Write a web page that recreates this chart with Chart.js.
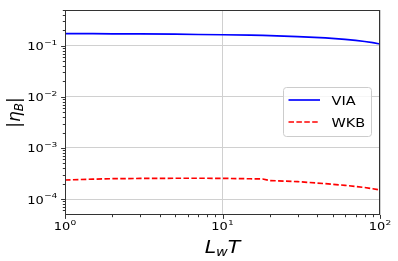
<!DOCTYPE html>
<html>
<head>
<meta charset="utf-8">
<script src="https://cdn.jsdelivr.net/npm/chart.js@4"></script>
<style>
  body { margin: 0; background: #fff; }
  canvas { display: block; }
</style>
</head>
<body>
<canvas id="chart" width="398" height="261"></canvas>
<script>
// values (log-log)
const lwT = [1, 1.5, 2, 3, 5, 7, 10, 15, 18, 20, 30, 45, 60, 70, 80, 90, 100];
const viaValues = [0.172, 0.172, 0.171, 0.170, 0.168, 0.166, 0.164, 0.161, 0.159, 0.158, 0.151, 0.142, 0.133, 0.127, 0.121, 0.115, 0.108];
const wkbValues = [2.36e-4, 2.45e-4, 2.50e-4, 2.53e-4, 2.55e-4, 2.55e-4, 2.54e-4, 2.49e-4, 2.47e-4, 2.30e-4, 2.19e-4, 2.00e-4, 1.85e-4, 1.76e-4, 1.68e-4, 1.59e-4, 1.50e-4];
const seriesLabels = ['VIA', 'WKB'];
const xTickValues = [1, 10, 100];
const yTickValues = [1e-4, 1e-3, 1e-2, 1e-1];

const FONT = '"DejaVu Sans", sans-serif';
const SQ = 0.8; // the picture is a bit squashed vertically

function isMajor(v) {
    const l = Math.log10(v);
    return Math.abs(l - Math.round(l)) < 1e-6;
}
function isNiceMinor(v) {
    const m = v / Math.pow(10, Math.floor(Math.log10(v) + 1e-9));
    return Math.abs(m - Math.round(m)) < 1e-6;
}

function text(ctx, str, x, y, font, sx, sy) {
    ctx.save();
    ctx.translate(x, y);
    ctx.scale(sx, sy);
    ctx.font = font;
    ctx.fillText(str, 0, 0);
    ctx.restore();
}

function drawPow(ctx, value, x, y, align) {
    const exp = Math.round(Math.log10(value));
    const expStr = exp < 0 ? '\u2212' + (-exp) : String(exp);
    const fb = '13px ' + FONT, fe = '9.1px ' + FONT;
    ctx.font = fb;
    const wb = ctx.measureText('10').width;
    ctx.font = fe;
    const we = ctx.measureText(expStr).width;
    const total = wb + we;
    const sx = align === 'right' ? x - total : x - total / 2;
    ctx.textAlign = 'left';
    ctx.textBaseline = 'alphabetic';
    text(ctx, '10', sx, y, fb, 1, SQ);
    text(ctx, expStr, sx + wb, y - 5.5, fe, 1, SQ);
}

function drawMath(ctx, pieces, size, sx, sy) {
    let total = 0;
    const fonts = pieces.map(p => (p.it ? 'italic ' : '') + (p.sub ? size * 0.7 : size) + 'px ' + FONT);
    const widths = pieces.map((p, i) => {
        ctx.font = fonts[i];
        const w = ctx.measureText(p.t).width;
        total += w;
        return w;
    });
    let x = -total / 2;
    ctx.textAlign = 'left';
    ctx.textBaseline = 'alphabetic';
    ctx.scale(sx, sy);
    pieces.forEach((p, i) => {
        ctx.font = fonts[i];
        ctx.fillText(p.t, x, p.sub ? size * 0.22 : 0);
        x += widths[i];
    });
}

const decorPlugin = {
    id: 'decor',
    afterDatasetsDraw(chart) {
        const ctx = chart.ctx;
        const a = chart.chartArea;
        const xs = chart.scales.x, ys = chart.scales.y;
        ctx.save();
        // frame
        ctx.strokeStyle = '#333';
        ctx.lineWidth = 1;
        ctx.strokeRect(Math.round(a.left) + 0.5, Math.round(a.top) + 0.5,
            Math.round(a.right - a.left) - 1, Math.round(a.bottom - a.top) - 1);
        // tick marks
        ctx.beginPath();
        xs.ticks.forEach(t => {
            if (!isNiceMinor(t.value)) return;
            const px = Math.round(xs.getPixelForValue(t.value)) + 0.5;
            const len = isMajor(t.value) ? 3.9 : 2.2;
            ctx.moveTo(px, a.bottom);
            ctx.lineTo(px, a.bottom + len);
        });
        ys.ticks.forEach(t => {
            if (!isNiceMinor(t.value)) return;
            const py = Math.round(ys.getPixelForValue(t.value)) + 0.5;
            const len = isMajor(t.value) ? 3.9 : 2.2;
            ctx.moveTo(a.left, py);
            ctx.lineTo(a.left - len, py);
        });
        ctx.stroke();
        // tick labels
        ctx.fillStyle = '#000';
        xTickValues.forEach(v => drawPow(ctx, v, xs.getPixelForValue(v), a.bottom + 15, 'center'));
        yTickValues.forEach(v => drawPow(ctx, v, a.left - 7.7, ys.getPixelForValue(v) + 4.5, 'right'));
        // axis titles
        ctx.save();
        ctx.translate((a.left + a.right) / 2, 252.5);
        drawMath(ctx, [{t: 'L', it: true}, {t: 'w', it: true, sub: true}, {t: 'T', it: true}], 20.5, 1, 0.83);
        ctx.restore();
        ctx.save();
        ctx.translate(19.5, (a.top + a.bottom) / 2);
        ctx.rotate(-Math.PI / 2);
        drawMath(ctx, [{t: '|'}, {t: 'η', it: true}, {t: 'B', it: true, sub: true}, {t: '|'}], 17, 1, 1);
        ctx.restore();
        // legend
        const bx = 283.5, by = 87.5, bw = 88, bh = 49, r = 3;
        ctx.beginPath();
        ctx.moveTo(bx + r, by);
        ctx.arcTo(bx + bw, by, bx + bw, by + bh, r);
        ctx.arcTo(bx + bw, by + bh, bx, by + bh, r);
        ctx.arcTo(bx, by + bh, bx, by, r);
        ctx.arcTo(bx, by, bx + bw, by, r);
        ctx.closePath();
        ctx.fillStyle = 'rgba(255,255,255,0.8)';
        ctx.fill();
        ctx.strokeStyle = '#cccccc';
        ctx.lineWidth = 1;
        ctx.stroke();
        chart.data.datasets.forEach((ds, i) => {
            const ly = 100 + i * 22;
            ctx.beginPath();
            ctx.setLineDash(ds.borderDash || []);
            ctx.strokeStyle = ds.borderColor;
            ctx.lineWidth = ds.borderWidth;
            ctx.moveTo(288.5, ly);
            ctx.lineTo(320, ly);
            ctx.stroke();
            ctx.setLineDash([]);
            ctx.fillStyle = '#000';
            ctx.textAlign = 'left';
            ctx.textBaseline = 'alphabetic';
            text(ctx, ds.label, 331.5, ly + 4.5, '14.5px ' + FONT, 1, 0.82);
        });
        ctx.restore();
    }
};

const gridColor = c => (c.tick && isMajor(c.tick.value)) ? '#d0d0d0' : 'rgba(0,0,0,0)';

new Chart(document.getElementById('chart').getContext('2d'), {
    type: 'line',
    data: {
        datasets: [{
            label: seriesLabels[0],
            data: lwT.map((x, i) => ({x: x, y: viaValues[i]})),
            borderColor: '#0000ff',
            borderWidth: 1.67,
            pointRadius: 0,
            tension: 0,
            fill: false
        }, {
            label: seriesLabels[1],
            data: lwT.map((x, i) => ({x: x, y: wkbValues[i]})),
            borderColor: '#ff0000',
            borderWidth: 1.67,
            borderDash: [5.5, 2.4],
            pointRadius: 0,
            tension: 0,
            fill: false
        }]
    },
    options: {
        responsive: false,
        animation: false,
        devicePixelRatio: 1,
        layout: { padding: { left: 0, right: 18, top: 10, bottom: 0 } },
        plugins: { legend: { display: false }, tooltip: { enabled: false } },
        scales: {
            x: {
                type: 'logarithmic',
                min: 1,
                max: 100,
                ticks: { display: false },
                grid: { color: gridColor, lineWidth: 1, drawTicks: false },
                border: { display: false },
                afterFit: s => { s.height = 46; }
            },
            y: {
                type: 'logarithmic',
                min: 4.87e-5,
                max: 0.5,
                ticks: { display: false },
                grid: { color: gridColor, lineWidth: 1, drawTicks: false },
                border: { display: false },
                afterFit: s => { s.width = 65; }
            }
        }
    },
    plugins: [decorPlugin]
});
</script>
</body>
</html>
